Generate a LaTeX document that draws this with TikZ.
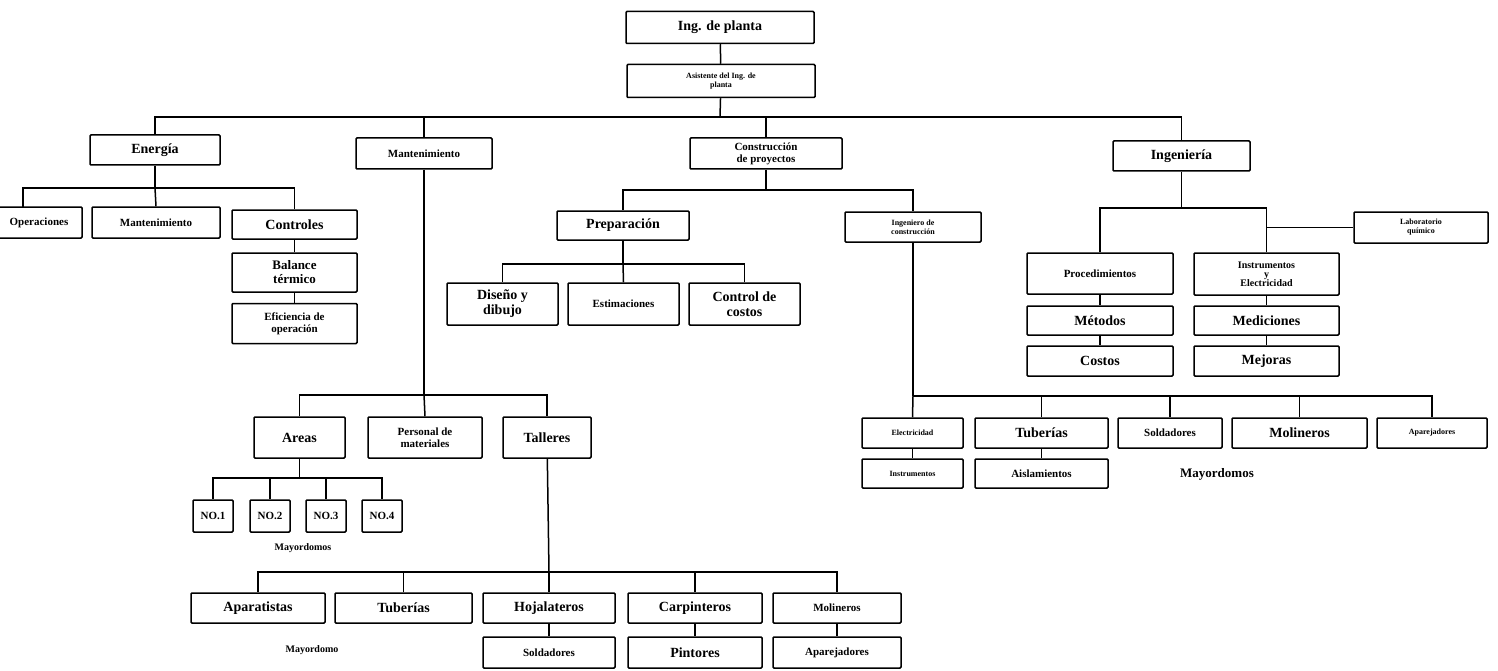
\documentclass[tikz,border=0pt]{standalone}
\usepackage{fontspec}
\setmainfont{Liberation Serif}
\begin{document}
\begin{tikzpicture}[x=1pt,y=-1pt,
  bx/.style={draw,line width=1.5pt,rounded corners=1pt,inner sep=0pt,align=center,font=\bfseries},
  big/.style={font=\bfseries\fontsize{14}{15}\selectfont},
  mid/.style={font=\bfseries\fontsize{11}{12}\selectfont},
  sml/.style={font=\bfseries\fontsize{8}{9}\selectfont},
  link/.style={line width=1.5pt},
  lbl/.style={font=\bfseries\fontsize{10}{11}\selectfont}]
\useasboundingbox (0,0) rectangle (1498,671);
\clip (0,0) rectangle (1498,671);
% top
\node[bx,big,minimum width=188pt,minimum height=32pt] (top) at (720,27.5) {Ing. de planta};
\node[bx,sml,minimum width=188pt,minimum height=33pt] (asis) at (721,81) {Asistente del Ing. de\\planta};
% level 2
\node[bx,big,minimum width=130pt,minimum height=30pt] (energia) at (155,150) {Energía};
\node[bx,mid,minimum width=136pt,minimum height=31pt] (mant) at (424,153.5) {Mantenimiento};
\node[bx,mid,minimum width=152pt,minimum height=31pt] (constr) at (766,153.5) {Construcción\\de proyectos};
\node[bx,big,minimum width=137pt,minimum height=30pt] (ing) at (1181.5,156) {Ingeniería};
\coordinate (tb) at (720,117);
\draw[link] (top) -- (asis);
\draw[link] (asis) -- (tb);
\draw[link] (tb) -| (energia.north);
\draw[link] (tb) -| (mant.north);
\draw[link] (tb) -| (constr.north);
\draw[link] (tb) -| (ing.north);
% energia
\node[bx,mid,minimum width=86pt,minimum height=31pt] (oper) at (39,222.5) {Operaciones};
\node[bx,mid,minimum width=128pt,minimum height=31pt] (mant2) at (156,222.5) {Mantenimiento};
\node[bx,big,minimum width=125pt,minimum height=29pt] (controles) at (294.5,224.5) {Controles};
\node[bx,font=\bfseries\fontsize{13}{14}\selectfont,minimum width=125pt,minimum height=39pt] (balance) at (294.5,272.5) {Balance\\térmico};
\node[bx,mid,minimum width=125pt,minimum height=40pt] (efic) at (294.5,323.5) {Eficiencia de\\operación};
\coordinate (eb) at (155,188);
\draw[link] (energia) -- (eb);
\draw[link] (eb) -| (23,207);
\draw[link] (eb) -| (controles.north);
\draw[link] (eb) -- (mant2.north);
\draw[link] (controles) -- (balance);
\draw[link] (balance) -- (efic);
% mantenimiento
\node[bx,big,minimum width=91pt,minimum height=41pt] (areas) at (299.5,437.5) {Areas};
\node[bx,mid,minimum width=114pt,minimum height=41pt] (personal) at (425,437.5) {Personal de\\materiales};
\node[bx,big,minimum width=88pt,minimum height=41pt] (talleres) at (547,437.5) {Talleres};
\coordinate (mb) at (424,395);
\draw[link] (mant) -- (mb);
\draw[link] (mb) -| (areas.north);
\draw[link] (mb) -| (talleres.north);
\draw[link] (mb) -- (personal.north);
\node[bx,mid,minimum width=40pt,minimum height=32pt] (no1) at (213,516) {NO.1};
\node[bx,mid,minimum width=40pt,minimum height=32pt] (no2) at (270,516) {NO.2};
\node[bx,mid,minimum width=40pt,minimum height=32pt] (no3) at (326,516) {NO.3};
\node[bx,mid,minimum width=40pt,minimum height=32pt] (no4) at (382,516) {NO.4};
\coordinate (ab) at (299.5,478);
\draw[link] (areas) -- (ab);
\draw[link] (ab) -| (no1.north);
\draw[link] (ab) -| (no2.north);
\draw[link] (ab) -| (no3.north);
\draw[link] (ab) -| (no4.north);
\node[lbl] (may1) at (303,548) {Mayordomos};
% talleres
\node[bx,big,minimum width=134pt,minimum height=30pt] (apar) at (258,608) {Aparatistas};
\node[bx,big,minimum width=137pt,minimum height=30pt] (tub) at (403.5,608) {Tuberías};
\node[bx,big,minimum width=132pt,minimum height=30pt] (hoja) at (549,608) {Hojalateros};
\node[bx,big,minimum width=134pt,minimum height=30pt] (carp) at (695,608) {Carpinteros};
\node[bx,mid,minimum width=128pt,minimum height=30pt] (moli) at (837,608) {Molineros};
\node[bx,mid,minimum width=132pt,minimum height=31pt] (sold) at (549,652.5) {Soldadores};
\node[bx,big,minimum width=134pt,minimum height=31pt] (pint) at (695,652.5) {Pintores};
\node[bx,mid,minimum width=128pt,minimum height=31pt] (apare) at (837,652.5) {Aparejadores};
\coordinate (tb2) at (549,572);
\draw[link] (talleres) -- (tb2);
\draw[link] (tb2) -| (apar.north);
\draw[link] (tb2) -| (tub.north);
\draw[link] (tb2) -| (carp.north);
\draw[link] (tb2) -| (moli.north);
\draw[link] (tb2) -- (hoja.north);
\draw[link] (hoja) -- (sold);
\draw[link] (carp) -- (pint);
\draw[link] (moli) -- (apare);
\node[lbl] (may2) at (312,650) {Mayordomo};
% construccion
\node[bx,big,minimum width=132pt,minimum height=29pt] (prep) at (623,225.5) {Preparación};
\node[bx,sml,minimum width=136pt,minimum height=30pt] (ingcon) at (913,227) {Ingeniero de\\construcción};
\coordinate (cb) at (766,190);
\draw[link] (constr) -- (cb);
\draw[link] (cb) -| (prep.north);
\draw[link] (cb) -| (ingcon.north);
\node[bx,big,minimum width=111pt,minimum height=42pt] (diseno) at (502.5,304) {Diseño y\\dibujo};
\node[bx,mid,minimum width=111pt,minimum height=42pt] (estim) at (623.5,304) {Estimaciones};
\node[bx,big,minimum width=111pt,minimum height=42pt] (control) at (744.5,304) {Control de\\costos};
\coordinate (pb) at (623,264);
\draw[link] (prep) -- (pb);
\draw[link] (pb) -| (diseno.north);
\draw[link] (pb) -| (control.north);
\draw[link] (pb) -- (estim.north);
% ingeniero de construccion
\node[bx,sml,minimum width=101pt,minimum height=30pt] (elec) at (912.5,433) {Electricidad};
\node[bx,big,minimum width=133pt,minimum height=30pt] (tub2) at (1041.5,433) {Tuberías};
\node[bx,mid,minimum width=104pt,minimum height=30pt] (sold2) at (1170,433) {Soldadores};
\node[bx,big,minimum width=135pt,minimum height=30pt] (moli2) at (1299.5,433) {Molineros};
\node[bx,sml,minimum width=110pt,minimum height=30pt] (apar2) at (1432,433) {Aparejadores};
\node[bx,sml,minimum width=101pt,minimum height=29pt] (instr2) at (912.5,473.5) {Instrumentos};
\node[bx,mid,minimum width=133pt,minimum height=29pt] (aisl) at (1041.5,473.5) {Aislamientos};
\coordinate (ib) at (913,396);
\draw[link] (ingcon) -- (ib);
\draw[link] (ib) -- (elec.north);
\draw[link] (ib) -| (tub2.north);
\draw[link] (ib) -| (sold2.north);
\draw[link] (ib) -| (moli2.north);
\draw[link] (ib) -| (apar2.north);
\draw[link] (elec) -- (instr2);
\draw[link] (tub2) -- (aisl);
\node[font=\bfseries\fontsize{13}{14}\selectfont] (may3) at (1217,474) {Mayordomos};
% ingenieria
\node[bx,mid,minimum width=146pt,minimum height=41pt] (proc) at (1100,273.5) {Procedimientos};
\node[bx,font=\bfseries\fontsize{10}{11}\selectfont,minimum width=145pt,minimum height=42pt] (instr) at (1266.5,274) {Instrumentos\\[-2pt]y\\[-2pt]Electricidad};
\node[bx,big,minimum width=146pt,minimum height=29pt] (metodos) at (1100,320.5) {Métodos};
\node[bx,big,minimum width=146pt,minimum height=30pt] (costos) at (1100,361) {Costos};
\node[bx,big,minimum width=145pt,minimum height=29pt] (medic) at (1266.5,320.5) {Mediciones};
\node[bx,big,minimum width=145pt,minimum height=30pt] (mejoras) at (1266.5,361) {Mejoras};
\node[bx,sml,minimum width=134pt,minimum height=31pt] (lab) at (1421,227.5) {Laboratorio\\químico};
\coordinate (gb) at (1181.5,208);
\draw[link] (ing) -- (gb);
\draw[link] (gb) -| (proc.north);
\draw[link] (gb) -| (instr.north);
\draw[link] (instr.north |- lab.west) -- (lab.west);
\draw[link] (proc) -- (metodos);
\draw[link] (metodos) -- (costos);
\draw[link] (instr) -- (medic);
\draw[link] (medic) -- (mejoras);
\end{tikzpicture}
\end{document}
